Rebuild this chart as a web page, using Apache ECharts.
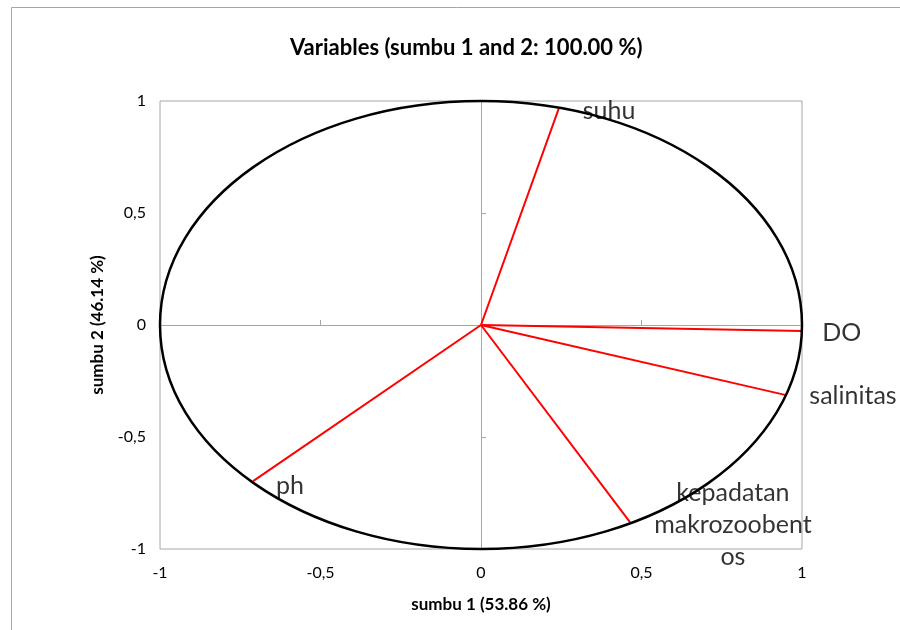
<!DOCTYPE html>
<html>
<head>
<meta charset="utf-8">
<script src="https://cdn.jsdelivr.net/npm/echarts@6/dist/echarts.min.js"></script>
<style>
  html, body { margin: 0; padding: 0; background: #fff; }
  #chart { width: 900px; height: 630px; }
</style>
</head>
<body>
<div id="chart"></div>
<script>
// variabel dan koordinat (korelasi dengan sumbu 1 dan 2)
var varNames = ['suhu', 'DO', 'salinitas', 'kepadatan\nmakrozoobent\nos', 'ph'];
var sumbu1 = [0.243, 0.9996, 0.947, 0.464, -0.710];
var sumbu2 = [0.969, -0.027, -0.312, -0.880, -0.697];
// posisi label relatif ke ujung vektor (px)
var labelOffset = [[50, 3], [40, 2], [68, 1], [103, 3], [37, 5]];
var axisTicks = [-1, -0.5, 0, 0.5, 1];

var fontMain = 'Lato, "Liberation Sans", sans-serif';
function fmt(v) { return String(v).replace('.', ','); }

var chart = echarts.init(document.getElementById('chart'));

var vectors = [];
var ends = [];
for (var i = 0; i < varNames.length; i++) {
    vectors.push({ coords: [[0, 0], [sumbu1[i], sumbu2[i]]] });
    ends.push({
        value: [sumbu1[i], sumbu2[i]],
        label: { position: labelOffset[i] }
    });
}

var option = {
    animation: false,
    backgroundColor: '#fff',
    title: {
        text: 'Variables (sumbu 1 and 2: 100.00 %)',
        left: 285,
        top: 32,
        textStyle: { fontFamily: fontMain, fontWeight: 'bold', fontSize: 22, color: '#000' }
    },
    grid: {
        left: 160, right: 98, top: 101, bottom: 81,
        show: true, borderColor: '#a6a6a6', borderWidth: 1,
        containLabel: false
    },
    xAxis: [{
        type: 'value', min: axisTicks[0], max: axisTicks[4], interval: 0.5,
        name: 'sumbu 1 (53.86 %)', nameLocation: 'middle', nameGap: 47,
        nameTextStyle: { fontFamily: fontMain, fontWeight: 'bold', fontSize: 17, color: '#000' },
        axisLine: { show: false, onZero: false },
        axisTick: { show: false },
        splitLine: { show: false },
        axisLabel: { margin: 16, fontFamily: fontMain, fontSize: 16, color: '#000', formatter: fmt }
    }, {
        type: 'value', min: axisTicks[0], max: axisTicks[4], interval: 0.5,
        axisLine: { show: true, onZero: true, lineStyle: { color: '#a6a6a6', width: 1 } },
        axisTick: { show: true, length: 5, lineStyle: { color: '#a6a6a6' } },
        axisLabel: { show: false },
        splitLine: { show: false }
    }],
    yAxis: [{
        type: 'value', min: axisTicks[0], max: axisTicks[4], interval: 0.5,
        name: 'sumbu 2 (46.14 %)', nameLocation: 'middle', nameGap: 54, nameRotate: 90,
        nameTextStyle: { fontFamily: fontMain, fontWeight: 'bold', fontSize: 17, color: '#000' },
        axisLine: { show: false, onZero: false },
        axisTick: { show: false },
        splitLine: { show: false },
        axisLabel: { margin: 14, fontFamily: fontMain, fontSize: 16, color: '#000', formatter: fmt }
    }, {
        type: 'value', min: axisTicks[0], max: axisTicks[4], interval: 0.5,
        axisLine: { show: true, onZero: true, lineStyle: { color: '#a6a6a6', width: 1 } },
        axisTick: { show: true, length: 5, lineStyle: { color: '#a6a6a6' } },
        axisLabel: { show: false },
        splitLine: { show: false }
    }],
    series: [{
        type: 'lines',
        coordinateSystem: 'cartesian2d',
        polyline: false,
        lineStyle: { color: '#ff0000', width: 2, opacity: 1 },
        data: vectors,
        z: 3
    }, {
        type: 'scatter',
        symbolSize: 0,
        data: ends,
        label: {
            show: true,
            formatter: function (p) { return varNames[p.dataIndex]; },
            align: 'center', verticalAlign: 'middle',
            fontFamily: fontMain, fontSize: 25, lineHeight: 32, color: '#000'
        },
        z: 5
    }]
};
chart.setOption(option);

// lingkaran korelasi (radius 1) lewat skala sumbu
var c = chart.convertToPixel({ gridIndex: 0 }, [0, 0]);
var p1 = chart.convertToPixel({ gridIndex: 0 }, [1, 1]);
chart.setOption({
    graphic: [{
        type: 'ellipse',
        shape: { cx: c[0], cy: c[1], rx: p1[0] - c[0], ry: c[1] - p1[1] },
        style: { fill: null, stroke: '#000', lineWidth: 2.5 },
        z: 4
    }, {
        type: 'rect',
        shape: { x: 11.5, y: 7.5, width: 1000, height: 1000 },
        style: { fill: null, stroke: '#a6a6a6', lineWidth: 1 },
        z: 1
    }]
});
</script>
</body>
</html>
